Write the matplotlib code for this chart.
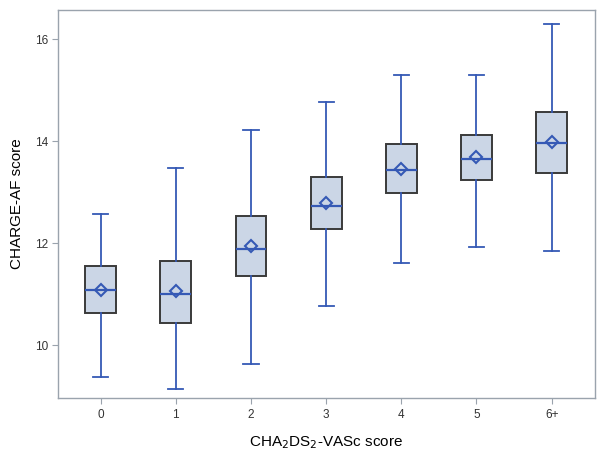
import matplotlib
matplotlib.use("Agg")
import matplotlib.pyplot as plt

plt.rcParams["font.family"] = ["Liberation Sans", "DejaVu Sans"]

# groups and box statistics
groups = ["0", "1", "2", "3", "4", "5", "6+"]
whislo = [9.37, 9.15, 9.63, 10.77, 11.62, 11.93, 11.85]
q1 = [10.64, 10.43, 11.36, 12.28, 12.99, 13.23, 13.38]
med = [11.09, 11.01, 11.89, 12.73, 13.44, 13.66, 13.97]
means = [11.09, 11.07, 11.95, 12.78, 13.46, 13.68, 13.99]
q3 = [11.55, 11.66, 12.54, 13.29, 13.94, 14.12, 14.57]
whishi = [12.57, 13.48, 14.22, 14.76, 15.30, 15.30, 16.29]

blue = "#3559b5"
fill = "#cbd6e6"
edge = "#3a3a3a"
grey = "#9aa3ad"

stats = []
for i, g in enumerate(groups):
    stats.append(dict(label=g, whislo=whislo[i], q1=q1[i], med=med[i],
                      q3=q3[i], whishi=whishi[i], mean=means[i], fliers=[]))

fig = plt.figure(figsize=(6.04, 4.54), dpi=100)
ax = fig.add_axes([0.0965, 0.1227, 0.8885, 0.8563])

ax.bxp(stats, positions=range(len(groups)), widths=0.41, capwidths=0.2,
       showmeans=True, patch_artist=True,
       boxprops=dict(facecolor=fill, edgecolor=edge, linewidth=1.4),
       whiskerprops=dict(color=blue, linewidth=1.3),
       capprops=dict(color=blue, linewidth=1.3),
       medianprops=dict(color=blue, linewidth=1.6),
       meanprops=dict(marker="D", markersize=6.5, markerfacecolor="none",
                      markeredgecolor=blue, markeredgewidth=1.5))

ax.set_xlim(-0.564, 6.576)
ax.set_ylim(8.96, 16.58)
ax.set_yticks([10, 12, 14, 16])
ax.set_xticks(range(len(groups)))
ax.set_xticklabels(groups)

for s in ax.spines.values():
    s.set_color(grey)
    s.set_linewidth(1.0)
ax.tick_params(colors=grey, labelcolor="#333333", labelsize=8.5, length=4,
               width=0.8)

ax.set_xlabel("CHA$_2$DS$_2$-VASc score", fontsize=11, labelpad=10)
ax.set_ylabel("CHARGE-AF score", fontsize=11, labelpad=8)

fig.savefig("out.png", dpi=100)
